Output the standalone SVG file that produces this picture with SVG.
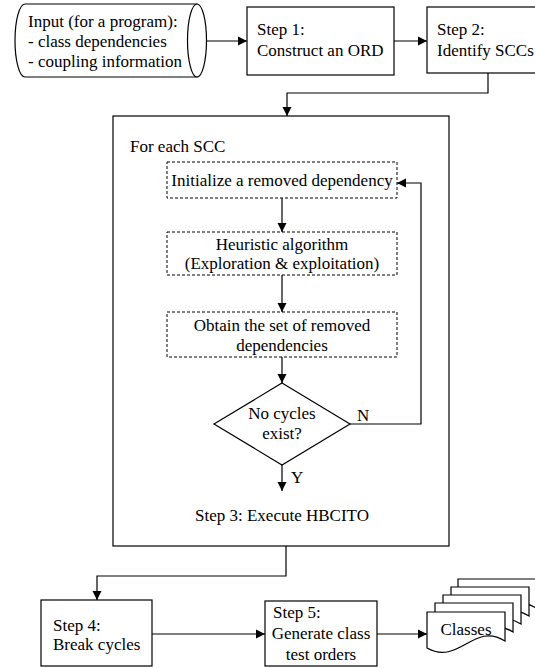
<svg xmlns="http://www.w3.org/2000/svg" width="535" height="668" viewBox="0 0 535 668">
<style>
text{font-family:"Liberation Serif","Times New Roman",serif;font-size:17px;fill:#000}
.b{fill:#fff;stroke:#000;stroke-width:1.2}
.d{fill:#fff;stroke:#000;stroke-width:1;stroke-dasharray:3,2}
.c{fill:none;stroke:#000;stroke-width:1.2}
.m{text-anchor:middle}
</style>
<defs>
<marker id="ar" markerUnits="userSpaceOnUse" markerWidth="10" markerHeight="10" refX="9" refY="5" orient="auto">
<path d="M0,0.5 L9,5 L0,9.5 Z" fill="#000"/>
</marker>
</defs>
<rect width="535" height="668" fill="#fff"/>
<g id="input">
<path class="b" d="M25,4 H197 V77 H25 A10,36.5 0 0 1 25,4 Z"/>
<ellipse class="b" cx="197" cy="40.5" rx="9.5" ry="36.5"/>
<text x="28" y="27">Input (for a program):</text>
<text x="28" y="47">- class dependencies</text>
<text x="28" y="67">- coupling information</text>
</g>
<g id="step1">
<rect class="b" x="247" y="7" width="147" height="68"/>
<text x="257" y="35">Step 1:</text>
<text x="257" y="56">Construct an ORD</text>
</g>
<g id="step2">
<rect class="b" x="427" y="7" width="120" height="66"/>
<text x="437" y="35">Step 2:</text>
<text x="437" y="56">Identify SCCs</text>
</g>
<g id="step3">
<rect class="b" x="113" y="116" width="336" height="430"/>
<text x="130" y="152">For each SCC</text>
<text class="m" x="282" y="521">Step 3: Execute HBCITO</text>
</g>
<g id="init">
<rect class="d" x="167" y="162" width="230" height="36"/>
<text class="m" x="282" y="186">Initialize a removed dependency</text>
</g>
<g id="heuristic">
<rect class="d" x="167" y="232" width="230" height="43"/>
<text class="m" x="282" y="250">Heuristic algorithm</text>
<text class="m" x="282" y="269">(Exploration &amp; exploitation)</text>
</g>
<g id="obtain">
<rect class="d" x="167" y="312" width="230" height="45"/>
<text class="m" x="282" y="331">Obtain the set of removed</text>
<text class="m" x="282" y="351">dependencies</text>
</g>
<g id="decision">
<polygon class="b" points="282,383 350,424 282,465 214,424"/>
<text class="m" x="282" y="419">No cycles</text>
<text class="m" x="282" y="439">exist?</text>
</g>
<g id="step4">
<rect class="b" x="41" y="600" width="111" height="66"/>
<text x="53" y="631">Step 4:</text>
<text x="53" y="650">Break cycles</text>
</g>
<g id="step5">
<rect class="b" x="265" y="601" width="112" height="65"/>
<text x="273" y="618">Step 5:</text>
<text class="m" x="321" y="639">Generate class</text>
<text class="m" x="321" y="660">test orders</text>
</g>
<g id="classes">
<path class="b" d="M458,579 H536 V608 C505,588 490,633 458,615 Z"/>
<path class="b" d="M451,587 H529 V616 C498,596 483,641 451,623 Z"/>
<path class="b" d="M443,595 H521 V624 C490,604 475,649 443,631 Z"/>
<path class="b" d="M435,603 H513 V632 C482,612 467,657 435,639 Z"/>
<path class="b" d="M427,612 H505 V641 C474,621 459,666 427,648 Z"/>
<text class="m" x="466" y="635">Classes</text>
</g>
<g id="connectors">
<path class="c" d="M206,41 H247" marker-end="url(#ar)"/>
<path class="c" d="M394,41 H427" marker-end="url(#ar)"/>
<path class="c" d="M488,73 V93 H287 V116" marker-end="url(#ar)"/>
<path class="c" d="M282,198 V232" marker-end="url(#ar)"/>
<path class="c" d="M282,275 V312" marker-end="url(#ar)"/>
<path class="c" d="M282,357 V383" marker-end="url(#ar)"/>
<path class="c" d="M350,424 H421 V183 H397" marker-end="url(#ar)"/>
<path class="c" d="M282,465 V491" marker-end="url(#ar)"/>
<path class="c" d="M286,546 V576 H97 V600" marker-end="url(#ar)"/>
<path class="c" d="M152,634 H265" marker-end="url(#ar)"/>
<path class="c" d="M377,634 H427" marker-end="url(#ar)"/>
<text x="357" y="421">N</text>
<text x="291" y="483">Y</text>
</g>
</svg>
